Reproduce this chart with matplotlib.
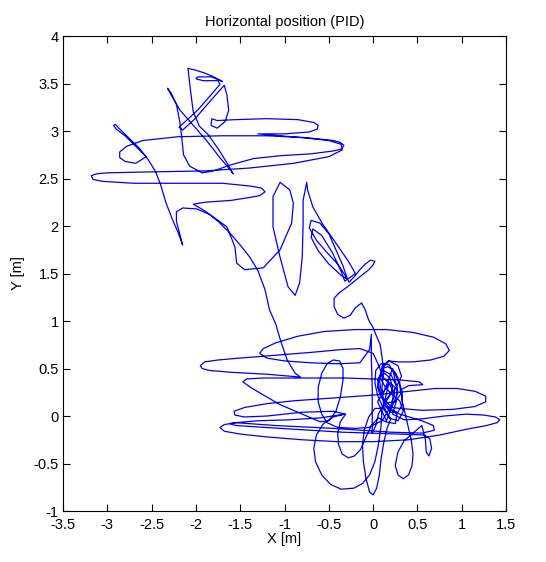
import numpy as np
import matplotlib.pyplot as plt
from matplotlib.ticker import FormatStrFormatter

plt.rcParams['font.family'] = ['Liberation Sans Narrow', 'Liberation Sans', 'DejaVu Sans']

# recorded horizontal position of the vehicle, split into pieces of the flight
center_a = [(0.12, 0.12), (0.18, 0.20), (0.22, 0.30), (0.19, 0.40), (0.13, 0.45), (0.07, 0.40),
            (0.05, 0.30), (0.09, 0.20), (0.16, 0.14), (0.25, 0.15), (0.31, 0.23), (0.30, 0.36),
            (0.25, 0.46), (0.17, 0.52), (0.10, 0.50), (0.07, 0.40), (0.09, 0.25), (0.14, 0.10),
            (0.20, 0.04), (0.28, 0.04), (0.33, 0.12), (0.32, 0.28), (0.26, 0.42), (0.18, 0.54),
            (0.09, 0.55), (0.03, 0.48), (0.02, 0.35), (0.05, 0.22), (0.12, 0.07), (0.20, -0.03)]
v_loop = [(0.16, -0.12), (0.12, -0.28), (0.09, -0.45), (0.07, -0.62), (0.04, -0.76), (0.00, -0.83),
          (-0.04, -0.80), (-0.08, -0.66), (-0.11, -0.48), (-0.12, -0.30), (-0.10, -0.15),
          (-0.05, -0.01), (0.02, 0.08), (0.10, 0.08)]
bottom_loop = [(0.09, -0.10), (0.06, -0.30), (0.02, -0.48), (-0.04, -0.62), (-0.12, -0.71),
               (-0.22, -0.76), (-0.36, -0.77), (-0.48, -0.72), (-0.58, -0.62), (-0.65, -0.48),
               (-0.67, -0.34), (-0.64, -0.20), (-0.56, -0.08), (-0.45, -0.01), (-0.32, 0.02)]
ellipse_low = [(-0.60, -0.02), (-0.95, -0.04), (-1.30, -0.05), (-1.55, -0.07), (-1.68, -0.09),
               (-1.73, -0.12), (-1.68, -0.16), (-1.50, -0.19), (-1.20, -0.22), (-0.80, -0.25),
               (-0.40, -0.27), (0.00, -0.27), (0.40, -0.25), (0.75, -0.20), (1.05, -0.14),
               (1.28, -0.10), (1.40, -0.07), (1.43, -0.04), (1.38, -0.01), (1.25, 0.01),
               (1.05, 0.02), (0.80, 0.00), (0.55, -0.03), (0.35, -0.04), (0.22, 0.02)]
center_b = [(0.26, 0.15), (0.27, 0.30), (0.20, 0.44), (0.11, 0.48), (0.05, 0.38), (0.08, 0.22),
            (0.18, 0.08), (0.27, 0.02), (0.25, -0.08), (0.14, -0.06), (0.06, -0.02)]
u_loop = [(-0.02, -0.10), (-0.08, -0.22), (-0.14, -0.35), (-0.21, -0.42), (-0.28, -0.44),
          (-0.35, -0.40), (-0.39, -0.30), (-0.40, -0.18), (-0.37, -0.06), (-0.31, 0.02),
          (-0.45, 0.05)]
ellipse_zero = [(-0.80, 0.04), (-1.20, 0.00), (-1.45, -0.01), (-1.56, 0.01), (-1.57, 0.05),
                (-1.45, 0.09), (-1.20, 0.13), (-0.90, 0.16), (-0.45, 0.19), (0.00, 0.22),
                (0.40, 0.26), (0.70, 0.29), (0.95, 0.29), (1.15, 0.26), (1.27, 0.21),
                (1.27, 0.15), (1.15, 0.10), (0.90, 0.07), (0.55, 0.06), (0.30, 0.08), (0.15, 0.10)]
flat_lines = [(0.30, 0.02), (0.55, -0.05), (0.68, -0.10), (0.69, -0.15), (0.55, -0.18),
              (0.20, -0.17), (-0.45, -0.13), (-1.10, -0.10), (-1.55, -0.07), (-1.62, -0.08),
              (-1.55, -0.10), (-1.05, -0.13), (-0.35, -0.17), (0.30, -0.19), (0.58, -0.20),
              (0.64, -0.24), (0.66, -0.34), (0.63, -0.42), (0.60, -0.38), (0.59, -0.25),
              (0.55, -0.10)]
right_loop = [(0.45, -0.18), (0.35, -0.26), (0.28, -0.38), (0.25, -0.52), (0.28, -0.62),
              (0.34, -0.66), (0.40, -0.62), (0.44, -0.52), (0.45, -0.40), (0.43, -0.25),
              (0.38, -0.05), (0.33, 0.15), (0.32, 0.28), (0.40, 0.32)]
ellipse_mid = [(0.56, 0.33), (0.52, 0.36), (0.30, 0.38), (-0.30, 0.40), (-0.83, 0.40),
               (-1.25, 0.40), (-1.43, 0.39), (-1.47, 0.36), (-1.38, 0.30), (-1.20, 0.20),
               (-1.05, 0.12), (-0.90, 0.06), (-0.75, 0.00), (-0.60, -0.06), (-0.50, -0.05),
               (-0.42, 0.05), (-0.37, 0.20), (-0.34, 0.38), (-0.34, 0.50), (-0.38, 0.58),
               (-0.45, 0.59), (-0.52, 0.55), (-0.58, 0.45), (-0.62, 0.30), (-0.62, 0.15),
               (-0.58, 0.02), (-0.52, -0.07), (-0.40, -0.12), (-0.20, -0.13), (-0.05, -0.12),
               (0.10, -0.05)]
center_c = [(0.20, 0.10), (0.24, 0.22), (0.18, 0.35), (0.09, 0.42), (0.10, 0.52), (0.17, 0.58),
            (0.28, 0.57)]
ellipse_high = [(0.45, 0.57), (0.65, 0.59), (0.80, 0.63), (0.86, 0.69), (0.82, 0.76),
                (0.68, 0.83), (0.45, 0.88), (0.15, 0.91), (-0.20, 0.91), (-0.55, 0.89),
                (-0.85, 0.84), (-1.10, 0.77), (-1.24, 0.71), (-1.28, 0.66), (-1.20, 0.61),
                (-1.00, 0.58), (-0.70, 0.56), (-0.40, 0.55), (-0.15, 0.56)]
vertical = [(-0.04, 0.70), (-0.02, 0.86), (-0.02, 0.60), (-0.01, 0.30), (-0.01, 0.00),
            (-0.01, -0.18), (0.03, -0.10), (0.06, 0.02)]
center_d = [(0.15, 0.18), (0.26, 0.30), (0.32, 0.42), (0.28, 0.53), (0.18, 0.58), (0.10, 0.50),
            (0.08, 0.40), (0.14, 0.30), (0.22, 0.22), (0.30, 0.16), (0.34, 0.05), (0.28, -0.05),
            (0.18, -0.02), (0.12, 0.10), (0.10, 0.30), (0.12, 0.48), (0.10, 0.62)]
diagonal = [(0.08, 0.75), (0.03, 0.86), (0.00, 0.93), (-0.05, 1.01), (-0.09, 1.12),
            (-0.13, 1.19), (-0.20, 1.14), (-0.26, 1.06), (-0.33, 1.03), (-0.40, 1.07),
            (-0.44, 1.15), (-0.44, 1.24), (-0.38, 1.30), (-0.29, 1.36), (-0.21, 1.42),
            (-0.13, 1.48), (-0.05, 1.54), (0.00, 1.59), (0.02, 1.63), (-0.03, 1.64),
            (-0.09, 1.60), (-0.15, 1.54), (-0.21, 1.47), (-0.27, 1.41)]
mid_loops = [(-0.33, 1.50), (-0.40, 1.60), (-0.52, 1.72), (-0.64, 1.85), (-0.72, 1.98),
             (-0.70, 2.06), (-0.60, 2.03), (-0.50, 1.92), (-0.42, 1.75), (-0.34, 1.58),
             (-0.29, 1.44), (-0.36, 1.48), (-0.50, 1.60), (-0.62, 1.74), (-0.70, 1.88),
             (-0.68, 1.97), (-0.58, 1.90), (-0.46, 1.72), (-0.36, 1.52), (-0.32, 1.42),
             (-0.20, 1.50), (-0.28, 1.63), (-0.42, 1.82), (-0.57, 2.02), (-0.68, 2.20),
             (-0.74, 2.38), (-0.75, 2.46)]
tall_loops = [(-0.79, 2.27), (-0.79, 2.03), (-0.80, 1.67), (-0.83, 1.40), (-0.88, 1.27),
              (-0.96, 1.36), (-1.05, 1.67), (-1.13, 1.99), (-1.13, 2.31), (-1.05, 2.46),
              (-0.94, 2.38), (-0.90, 2.24), (-0.92, 2.03), (-1.05, 1.75), (-1.24, 1.56),
              (-1.45, 1.54), (-1.54, 1.61), (-1.56, 1.78), (-1.65, 1.99), (-1.84, 2.12),
              (-1.99, 2.18), (-2.15, 2.19), (-2.22, 2.15), (-2.22, 2.05), (-2.15, 1.80)]
start_line = [(-2.20, 1.93), (-2.27, 2.08), (-2.34, 2.25), (-2.40, 2.44), (-2.46, 2.58),
              (-2.54, 2.70), (-2.64, 2.82), (-2.76, 2.93), (-2.87, 3.03), (-2.91, 3.07),
              (-2.93, 3.06), (-2.90, 3.02), (-2.80, 2.95), (-2.68, 2.84), (-2.56, 2.73)]
ellipse_big = [(-2.68, 2.66), (-2.80, 2.68), (-2.86, 2.72), (-2.86, 2.78), (-2.78, 2.84),
               (-2.60, 2.90), (-2.20, 2.94), (-1.70, 2.95), (-1.20, 2.95), (-0.75, 2.93),
               (-0.45, 2.90), (-0.37, 2.88), (-0.33, 2.85), (-0.36, 2.81), (-0.45, 2.79),
               (-0.70, 2.76), (-1.05, 2.74), (-1.35, 2.71), (-1.62, 2.64), (-1.80, 2.58),
               (-1.93, 2.56)]
top_cluster = [(-2.07, 2.63), (-2.14, 2.75), (-2.16, 2.93), (-2.18, 3.09), (-2.22, 3.28),
               (-2.28, 3.40), (-2.32, 3.45), (-2.28, 3.38), (-2.18, 3.22), (-2.03, 3.06),
               (-1.88, 2.90), (-1.73, 2.72), (-1.62, 2.60), (-1.58, 2.55), (-1.64, 2.65),
               (-1.74, 2.80), (-1.86, 2.96), (-1.96, 3.05), (-2.03, 3.20), (-2.06, 3.42),
               (-2.09, 3.66), (-2.00, 3.64), (-1.90, 3.61), (-1.80, 3.57), (-1.70, 3.52),
               (-1.82, 3.57), (-1.98, 3.57), (-2.00, 3.55), (-1.92, 3.53), (-1.75, 3.53),
               (-1.73, 3.49), (-1.84, 3.37), (-1.98, 3.22), (-2.12, 3.10), (-2.19, 3.04),
               (-2.15, 3.01), (-2.02, 3.12), (-1.88, 3.27), (-1.74, 3.42), (-1.68, 3.48),
               (-1.65, 3.38), (-1.63, 3.22), (-1.67, 3.10), (-1.76, 3.03), (-1.83, 3.06),
               (-1.82, 3.13), (-1.76, 3.11)]
ellipse_top = [(-1.55, 3.12), (-1.20, 3.13), (-0.85, 3.12), (-0.67, 3.09), (-0.62, 3.06),
               (-0.63, 3.02), (-0.72, 2.99), (-1.00, 2.97), (-1.30, 2.97), (-0.80, 2.93),
               (-0.50, 2.90), (-0.36, 2.86), (-0.35, 2.80)]
ellipse_left = [(-0.50, 2.73), (-0.90, 2.66), (-1.40, 2.61), (-1.90, 2.58), (-2.50, 2.57),
                (-3.00, 2.56), (-3.12, 2.55), (-3.18, 2.53), (-3.16, 2.49), (-3.05, 2.47),
                (-2.70, 2.45), (-2.20, 2.45), (-1.70, 2.45), (-1.38, 2.42), (-1.26, 2.40),
                (-1.22, 2.36), (-1.28, 2.32), (-1.40, 2.30), (-1.60, 2.27), (-1.90, 2.25),
                (-2.03, 2.23)]
long_line = [(-1.90, 2.16), (-1.75, 2.05), (-1.62, 1.93), (-1.50, 1.80), (-1.39, 1.67),
             (-1.30, 1.53), (-1.22, 1.33), (-1.17, 1.12), (-1.10, 0.97), (-1.04, 0.78),
             (-0.97, 0.59), (-0.88, 0.45), (-0.82, 0.41)]
ellipse_narrow = [(-1.20, 0.44), (-1.60, 0.46), (-1.85, 0.48), (-1.93, 0.50), (-1.95, 0.53),
                  (-1.90, 0.57), (-1.75, 0.59), (-1.50, 0.61), (-1.10, 0.64), (-0.70, 0.67),
                  (-0.35, 0.70), (-0.15, 0.71), (0.00, 0.66), (0.05, 0.56)]
center_end = [(0.12, 0.40), (0.25, 0.30), (0.20, 0.10), (0.10, 0.20), (0.22, 0.50),
              (0.28, 0.25), (0.15, -0.05), (0.05, 0.15), (0.18, 0.35), (0.12, 0.12)]

flight = (center_a + v_loop + bottom_loop + ellipse_low + center_b + u_loop + ellipse_zero
          + flat_lines + right_loop + ellipse_mid + center_c + ellipse_high + vertical + center_d
          + diagonal + mid_loops + tall_loops + start_line + ellipse_big + top_cluster
          + ellipse_top + ellipse_left + long_line + ellipse_narrow + center_end)
pos = np.array(flight)

fig = plt.figure(figsize=(5.46, 5.62), dpi=100)
ax = fig.add_axes([0.1154, 0.0907, 0.8114, 0.8452])
ax.plot(pos[:, 0], pos[:, 1], color='#0000ee', lw=0.9)

ax.set_xlim(-3.5, 1.5)
ax.set_ylim(-1, 4)
ax.set_xticks(np.arange(-3.5, 1.51, 0.5))
ax.set_yticks(np.arange(-1, 4.01, 0.5))
ax.xaxis.set_major_formatter(FormatStrFormatter('%g'))
ax.yaxis.set_major_formatter(FormatStrFormatter('%g'))
ax.tick_params(direction='in', top=True, right=True, length=5, width=0.8,
               labelsize=10.5, pad=3)
ax.tick_params(axis='x', pad=5)
for s in ax.spines.values():
    s.set_linewidth(0.8)

ax.set_title('Horizontal position (PID)', fontsize=10.5, pad=7)
ax.set_xlabel('X [m]', fontsize=10.5, labelpad=0)
ax.set_ylabel('Y [m]', fontsize=10.5, labelpad=6)

fig.savefig('out.png', dpi=100)
